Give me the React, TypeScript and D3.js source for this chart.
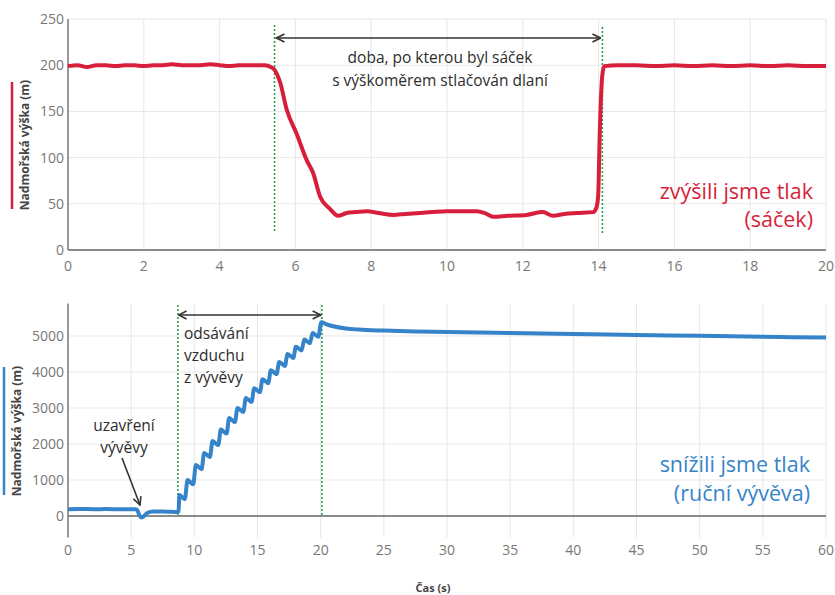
import React, { useEffect, useRef } from 'react';
import * as d3 from 'd3';

// horní graf – sáček s výškoměrem stlačovaný dlaní
const sacekCas = [
  0, 0.25, 0.5, 0.75, 1, 1.25, 1.5, 1.75, 2, 2.25, 2.5, 2.75, 3, 3.25, 3.5, 3.75, 4, 4.25, 4.5, 4.75, 5, 5.2,
  5.35, 5.45, 5.6, 5.77, 6.03, 6.3, 6.47, 6.65, 6.9, 7.13, 7.35, 7.6, 7.88, 8.2, 8.58, 8.9, 9.29, 9.6, 10,
  10.4, 10.78, 11, 11.22, 11.6, 12.1, 12.53, 12.8, 13.1, 13.42, 13.86, 13.95, 13.99, 14.03, 14.1, 14.15,
  14.5, 14.75, 15, 15.5, 16, 16.5, 17, 17.5, 18, 18.5, 19, 19.5, 20,
];
const sacekVyska = [
  199, 200, 198, 200, 200, 199, 200, 200, 199, 200, 200, 201, 200, 200, 200, 201, 200, 199, 200, 200, 200, 200,
  198, 195, 181, 152, 126, 97, 83, 58, 45, 37, 40, 41, 42, 40, 38, 39, 40, 41, 42,
  42, 42, 40, 36, 37, 38, 41, 37, 39, 40, 41, 47, 60, 126, 190, 199,
  200, 200, 200, 199, 200, 199, 200, 199, 200, 199, 200, 199, 199,
];

// dolní graf – ruční vývěva
const vyvevaCas = [
  0, 1, 2, 3, 4, 5, 5.35, 5.5, 5.65, 5.83, 6, 6.23, 6.5, 6.75, 7.5, 8, 8.6, 8.75,
  8.82, 9.25, 9.46, 9.91, 10.12, 10.57, 10.78, 11.23, 11.44, 11.89, 12.1, 12.55, 12.76, 13.21,
  13.42, 13.87, 14.08, 14.53, 14.74, 15.19, 15.4, 15.85, 16.06, 16.51, 16.72, 17.17, 17.38, 17.83,
  18.04, 18.49, 18.7, 19.15, 19.36, 19.81, 20.05, 20.5, 21, 22, 23, 25, 27.5, 30, 35, 40, 45, 50, 55, 60,
];
const vyvevaVyska = [
  190, 192, 190, 191, 190, 189, 185, 150, 20, -40, -10, 75, 115, 125, 125, 120, 110, 130,
  580, 470, 1000, 880, 1420, 1300, 1750, 1640, 2080, 1970, 2400, 2290, 2720, 2610,
  3000, 2890, 3280, 3170, 3550, 3440, 3800, 3690, 4050, 3940, 4280, 4170, 4500, 4390,
  4700, 4600, 4900, 4800, 5080, 4980, 5380, 5320, 5270, 5210, 5180, 5150, 5125, 5110, 5085, 5055, 5030, 5005, 4980, 4955,
];

const horniXTicks = [0, 2, 4, 6, 8, 10, 12, 14, 16, 18, 20];
const horniYTicks = [0, 50, 100, 150, 200, 250];
const dolniXTicks = [0, 5, 10, 15, 20, 25, 30, 35, 40, 45, 50, 55, 60];
const dolniYTicks = [0, 1000, 2000, 3000, 4000, 5000];

const CERVENA = '#d71f3c';
const MODRA = '#3584c9';
const ZELENA = '#2e9e4f';
const FONT = "'Open Sans', 'Noto Sans', sans-serif";

function Graf() {
  const svgRef = useRef<SVGSVGElement>(null);

  useEffect(() => {
    const svg = d3.select(svgRef.current);
    svg.selectAll('*').remove();

    const defs = svg.append('defs');
    defs.append('marker')
      .attr('id', 'sipka')
      .attr('viewBox', '0 0 10 10')
      .attr('refX', 9)
      .attr('refY', 5)
      .attr('markerWidth', 10)
      .attr('markerHeight', 10)
      .attr('markerUnits', 'userSpaceOnUse')
      .attr('orient', 'auto-start-reverse')
      .append('path')
      .attr('d', 'M1,1 L9,5 L1,9')
      .attr('fill', 'none')
      .attr('stroke', '#333')
      .attr('stroke-width', 1.6);

    // jeden panel: mřížka, osy, popisky
    function panel(
      x: d3.ScaleLinear<number, number>,
      y: d3.ScaleLinear<number, number>,
      xTicks: number[],
      yTicks: number[],
      labelY: number,
    ) {
      const g = svg.append('g');
      const [y0, y1] = y.range();
      const [x0, x1] = x.range();
      xTicks.filter(t => t > 0).forEach(t => {
        g.append('line').attr('x1', x(t)).attr('x2', x(t)).attr('y1', y1).attr('y2', y0)
          .attr('stroke', '#e7e7e7').attr('stroke-width', 1);
      });
      yTicks.filter(t => t > 0).forEach(t => {
        g.append('line').attr('x1', x0).attr('x2', x1).attr('y1', y(t)).attr('y2', y(t))
          .attr('stroke', '#e7e7e7').attr('stroke-width', 1);
      });
      g.append('line').attr('x1', x0).attr('x2', x1).attr('y1', y(0)).attr('y2', y(0))
        .attr('stroke', '#666').attr('stroke-width', 1.5);
      g.append('line').attr('x1', x0).attr('x2', x0).attr('y1', y1).attr('y2', y0)
        .attr('stroke', '#777').attr('stroke-width', 1.5);
      xTicks.forEach(t => {
        g.append('text').attr('x', x(t)).attr('y', labelY).attr('text-anchor', 'middle')
          .attr('font-family', FONT).attr('font-size', 14).attr('fill', '#777').text(t);
      });
      yTicks.forEach(t => {
        g.append('text').attr('x', 64).attr('y', y(t)).attr('dy', '0.35em').attr('text-anchor', 'end')
          .attr('font-family', FONT).attr('font-size', 14).attr('fill', '#777').text(t);
      });
      return g;
    }

    function vertikala(g: any, px: number, ya: number, yb: number) {
      g.append('line').attr('x1', px).attr('x2', px).attr('y1', ya).attr('y2', yb)
        .attr('stroke', ZELENA).attr('stroke-width', 1.6).attr('stroke-dasharray', '2,2');
    }

    function sipka(g: any, xa: number, ya: number, xb: number, yb: number, obe: boolean) {
      const l = g.append('line').attr('x1', xa).attr('x2', xb).attr('y1', ya).attr('y2', yb)
        .attr('stroke', '#333').attr('stroke-width', 1.6).attr('marker-end', 'url(#sipka)');
      if (obe) l.attr('marker-start', 'url(#sipka)');
    }

    function text(g: any, s: string, px: number, py: number, anchor: string, size: number, color: string, weight = 400) {
      g.append('text').attr('x', px).attr('y', py).attr('text-anchor', anchor)
        .attr('font-family', FONT).attr('font-size', size).attr('font-weight', weight)
        .attr('fill', color).text(s);
    }

    // ---- horní graf
    const x1 = d3.scaleLinear().domain([0, 20]).range([68, 826]);
    const y1 = d3.scaleLinear().domain([0, 250]).range([250, 19]);
    const g1 = panel(x1, y1, horniXTicks, horniYTicks, 271);

    vertikala(g1, x1(5.45), 25, 232);
    vertikala(g1, x1(14.1), 27, 233);

    g1.append('path')
      .datum(d3.zip(sacekCas, sacekVyska))
      .attr('fill', 'none')
      .attr('stroke', CERVENA)
      .attr('stroke-width', 4)
      .attr('stroke-linejoin', 'round')
      .attr('d', d3.line<number[]>().x(d => x1(d[0])).y(d => y1(d[1])).curve(d3.curveMonotoneX));

    sipka(g1, x1(5.5), 38, x1(14.05), 38, true);
    text(g1, 'doba, po kterou byl sáček', 440, 63, 'middle', 15.5, '#2d2d2d');
    text(g1, 's výškoměrem stlačován dlaní', 440, 86, 'middle', 15.5, '#2d2d2d');
    text(g1, 'zvýšili jsme tlak', 813, 199, 'end', 21.5, CERVENA);
    text(g1, '(sáček)', 813, 227, 'end', 21.5, CERVENA);

    g1.append('line').attr('x1', 12).attr('x2', 12).attr('y1', 82).attr('y2', 209)
      .attr('stroke', CERVENA).attr('stroke-width', 2.5);
    g1.append('text').attr('transform', 'translate(29,145) rotate(-90)').attr('text-anchor', 'middle')
      .attr('font-family', FONT).attr('font-size', 12).attr('font-weight', 700).attr('fill', '#444')
      .text('Nadmořská výška (m)');

    // ---- dolní graf
    const x2 = d3.scaleLinear().domain([0, 60]).range([68, 826]);
    const y2 = d3.scaleLinear().domain([-600, 5900]).range([537.6, 303.6]);
    const g2 = panel(x2, y2, dolniXTicks, dolniYTicks, 555);

    vertikala(g2, x2(8.7), 305, 516);
    vertikala(g2, x2(20.1), 305, 516);

    g2.append('path')
      .datum(d3.zip(vyvevaCas, vyvevaVyska))
      .attr('fill', 'none')
      .attr('stroke', MODRA)
      .attr('stroke-width', 4)
      .attr('stroke-linejoin', 'round')
      .attr('d', d3.line<number[]>().x(d => x2(d[0])).y(d => y2(d[1])).curve(d3.curveMonotoneX));

    sipka(g2, x2(8.75), 315, x2(20.0), 315, true);
    text(g2, 'odsávání', 184, 339, 'start', 15.5, '#2d2d2d');
    text(g2, 'vzduchu', 184, 361, 'start', 15.5, '#2d2d2d');
    text(g2, 'z vývěvy', 184, 383, 'start', 15.5, '#2d2d2d');
    text(g2, 'uzavření', 124, 431, 'middle', 15.5, '#2d2d2d');
    text(g2, 'vývěvy', 124, 453, 'middle', 15.5, '#2d2d2d');
    sipka(g2, 122, 458, 140, 505, false);
    text(g2, 'snížili jsme tlak', 810, 472, 'end', 21.5, MODRA);
    text(g2, '(ruční vývěva)', 810, 501, 'end', 21.5, MODRA);

    g2.append('line').attr('x1', 4).attr('x2', 4).attr('y1', 367).attr('y2', 495)
      .attr('stroke', MODRA).attr('stroke-width', 2.5);
    g2.append('text').attr('transform', 'translate(21,431) rotate(-90)').attr('text-anchor', 'middle')
      .attr('font-family', FONT).attr('font-size', 12).attr('font-weight', 700).attr('fill', '#444')
      .text('Nadmořská výška (m)');

    text(g2, 'Čas (s)', 433, 592, 'middle', 11, '#444', 700);
  }, []);

  return <svg ref={svgRef} width={835} height={595} style={{ position: 'absolute', left: 0, top: 0, background: '#fff' }} />;
}

export default function App() {
  return <Graf />;
}
